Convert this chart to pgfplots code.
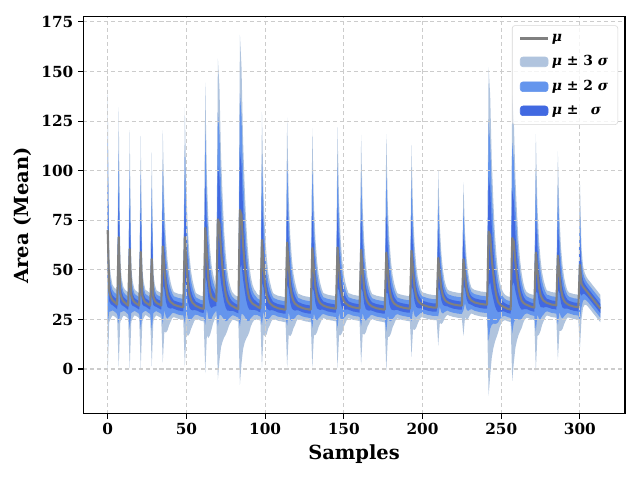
\documentclass[border=0pt]{standalone}
\usepackage{fontspec}
\setmainfont{DejaVu Serif}
\usepackage{pgfplots}
\usepackage{pgfplotstable}
\pgfplotsset{compat=1.18}
\usepgfplotslibrary{fillbetween}
\definecolor{lsb}{RGB}{176,196,222}
\definecolor{cfb}{RGB}{100,149,237}
\definecolor{rb}{RGB}{65,105,225}
\definecolor{mgray}{RGB}{128,128,128}
\definecolor{gridc}{RGB}{204,204,204}
\definecolor{legc}{RGB}{215,215,215}

\pgfplotstableread{
m s
70.0 23.8
39.3 5.2
36.3 3.6
34.8 2.6
34.0 2.4
33.3 2.4
32.5 2.4
66.5 21.8
38.2 4.8
35.5 3.3
34.1 2.4
33.4 2.2
32.7 2.2
32.0 2.2
60.4 20.0
37.1 4.4
34.8 3.0
33.7 2.2
33.1 2.1
32.6 2.1
32.0 2.1
59.0 19.5
36.9 4.3
34.7 2.9
33.6 2.1
33.1 2.1
32.5 2.1
32.0 2.1
55.4 18.0
36.2 4.0
34.3 2.7
33.4 2.1
32.9 2.1
32.5 2.1
32.0 2.1
61.8 19.5
51.0 10.7
41.8 7.8
37.2 5.9
35.0 4.3
33.8 3.3
33.2 2.5
32.5 2.1
32.2 2.1
31.9 2.1
31.6 2.1
31.5 2.1
31.3 2.1
31.2 2.1
66.5 21.8
53.7 12.0
42.8 8.7
37.3 6.5
34.7 4.8
33.3 3.7
32.6 2.8
31.8 2.2
31.5 2.1
31.1 2.1
30.7 2.1
30.5 2.1
30.4 2.1
71.2 24.4
57.1 13.4
45.1 9.8
39.0 7.3
36.2 5.4
35.5 4.1
34.8 3.2
34.2 2.4
75.5 27.0
73.2 23.0
59.6 16.2
50.5 12.2
42.7 8.9
37.7 6.8
34.6 5.1
33.2 3.8
32.3 3.0
31.8 2.4
31.4 2.2
30.9 2.1
30.5 2.1
30.2 2.1
80.2 29.4
77.7 25.0
62.8 17.6
52.9 13.2
44.4 9.7
39.0 7.4
35.5 5.6
34.0 4.1
33.0 3.2
32.5 2.6
32.0 2.4
31.5 2.1
31.0 2.1
30.7 2.1
65.1 21.5
52.8 11.8
42.3 8.6
37.0 6.5
34.6 4.7
33.2 3.7
32.5 2.8
31.8 2.2
31.4 2.1
31.1 2.1
30.7 2.1
30.5 2.1
30.4 2.1
30.2 2.1
30.0 2.1
30.0 2.1
63.8 21.0
52.0 11.6
41.8 8.4
36.8 6.3
34.4 4.6
33.0 3.6
32.4 2.7
31.7 2.1
31.4 2.1
31.0 2.1
30.7 2.1
30.5 2.1
30.3 2.1
30.2 2.1
30.0 2.1
30.0 2.1
61.0 20.1
50.3 11.1
41.2 8.0
36.6 6.0
34.5 4.4
33.2 3.4
32.6 2.6
32.0 2.1
31.7 2.1
31.4 2.1
31.1 2.1
31.0 2.1
30.8 2.1
30.7 2.1
30.5 2.1
30.5 2.1
61.3 20.2
50.5 11.1
41.3 8.1
36.7 6.1
34.5 4.4
33.3 3.4
32.7 2.6
32.0 2.1
31.7 2.1
31.4 2.1
31.1 2.1
31.0 2.1
30.8 2.1
30.7 2.1
30.5 2.1
60.1 19.3
49.6 10.6
40.5 7.7
36.0 5.8
33.9 4.2
32.7 3.3
32.1 2.5
31.5 2.1
31.2 2.1
30.9 2.1
30.6 2.1
30.5 2.1
30.3 2.1
30.2 2.1
30.0 2.1
30.0 2.1
58.7 19.9
48.8 10.9
40.4 8.0
36.1 6.0
34.2 4.4
33.0 3.4
32.5 2.6
31.9 2.1
31.6 2.1
31.3 2.1
31.1 2.1
30.9 2.1
30.8 2.1
30.6 2.1
30.5 2.1
30.5 2.1
59.6 17.8
49.6 9.8
41.0 7.1
36.7 5.3
34.7 3.9
33.6 3.0
33.0 2.3
32.4 2.1
32.1 2.1
31.9 2.1
31.6 2.1
31.4 2.1
31.3 2.1
31.1 2.1
31.0 2.1
31.0 2.1
31.0 2.1
56.0 14.7
47.6 8.1
40.4 5.9
36.8 4.4
35.1 3.2
34.2 2.5
33.7 2.1
33.2 2.1
33.0 2.1
32.7 2.1
32.5 2.1
32.4 2.1
32.2 2.1
32.1 2.1
32.0 2.1
32.0 2.1
55.4 12.9
47.4 7.1
40.5 5.2
37.1 3.9
35.5 2.8
34.6 2.2
34.1 2.1
33.6 2.1
33.4 2.1
33.2 2.1
33.0 2.1
32.8 2.1
32.7 2.1
32.6 2.1
32.5 2.1
32.5 2.1
69.3 27.6
67.3 23.5
55.5 16.6
47.7 12.4
41.0 9.1
36.7 6.9
33.9 5.2
32.8 3.9
32.0 3.0
31.6 2.5
31.2 2.2
30.8 2.1
30.4 2.1
30.2 2.1
30.0 2.1
66.0 24.0
64.3 20.4
53.8 14.4
46.8 10.8
40.8 7.9
37.0 6.0
34.5 4.6
33.5 3.4
32.8 2.6
32.4 2.2
32.1 2.1
31.7 2.1
31.4 2.1
31.2 2.1
31.0 2.1
58.7 19.9
49.4 10.9
41.3 8.0
37.3 6.0
35.5 4.4
34.4 3.4
33.9 2.6
33.3 2.1
33.1 2.1
32.8 2.1
32.5 2.1
32.4 2.1
32.3 2.1
32.1 2.1
57.2 17.5
48.0 9.6
40.2 7.0
36.2 5.3
34.4 3.9
33.4 3.0
32.8 2.3
32.3 2.1
32.0 2.1
31.8 2.1
31.5 2.1
31.4 2.1
31.3 2.1
31.1 2.1
52.5 14.1
43.0 6.0
41.5 3.5
40.5 2.7
39.5 2.4
38.5 2.3
37.5 2.3
36.5 2.3
35.5 2.3
34.5 2.3
33.5 2.3
32.5 2.3
31.5 2.3
30.5 2.3
}\data

\begin{document}
\begin{tikzpicture}
\begin{axis}[name=ax, scale only axis, width=390.2pt, height=285.8pt,
  xmin=-15.65, xmax=328.65, ymin=-22.6, ymax=177.5,
  xtick={0,50,...,300}, ytick={0,25,...,175},
  tick align=outside, tick pos=left, major tick length=3.5pt,
  every tick/.style={black, line width=0.8pt},
  axis line style={black, line width=0.8pt},
  grid=major, grid style={dash pattern=on 3pt off 2pt, gridc, line width=0.8pt},
  /pgf/number format/assume math mode=true,
  ticklabel style={font=\fontsize{11}{13}\selectfont\bfseries},
  xlabel={Samples}, ylabel={Area (Mean)},
  label style={font=\fontsize{14}{16}\selectfont\bfseries},
  fill between/on layer=axis background,
  legend style={at={(1,1)}, xshift=-5pt, yshift=-6pt, anchor=north east,
    draw=legc, rounded corners=2pt, fill=white, fill opacity=0.8, text opacity=1,
    font=\fontsize{10}{12}\selectfont\bfseries, row sep=5pt, inner xsep=5pt, inner ysep=4pt},
  legend cell align=left,
]
\addlegendimage{legend image code/.code={\draw[mgray, line width=1.5pt, draw opacity=1] (0pt,0pt) -- (20pt,0pt);}}
\addlegendentry{\textit{μ}}
\addlegendimage{legend image code/.code={\fill[lsb, fill opacity=1] (0pt,-3.5pt) rectangle (20pt,3.5pt);}}
\addlegendentry{\textit{μ} ± 3 \textit{σ}}
\addlegendimage{legend image code/.code={\fill[cfb, fill opacity=1] (0pt,-3.5pt) rectangle (20pt,3.5pt);}}
\addlegendentry{\textit{μ} ± 2 \textit{σ}}
\addlegendimage{legend image code/.code={\fill[rb, fill opacity=1] (0pt,-3.5pt) rectangle (20pt,3.5pt);}}
\addlegendentry{\textit{μ} ±\hspace{0.9em}\textit{σ}}

\addplot[name path=u3, draw=none, forget plot] table[x expr=\coordindex, y expr=\thisrow{m}+3*\thisrow{s}] {\data};
\addplot[name path=l3, draw=none, forget plot] table[x expr=\coordindex, y expr=\thisrow{m}-3*\thisrow{s}] {\data};
\addplot[lsb, forget plot] fill between[of=u3 and l3];
\addplot[name path=u2, draw=none, forget plot] table[x expr=\coordindex, y expr=\thisrow{m}+2*\thisrow{s}] {\data};
\addplot[name path=l2, draw=none, forget plot] table[x expr=\coordindex, y expr=\thisrow{m}-2*\thisrow{s}] {\data};
\addplot[cfb, forget plot] fill between[of=u2 and l2];
\addplot[name path=u1, draw=none, forget plot] table[x expr=\coordindex, y expr=\thisrow{m}+\thisrow{s}] {\data};
\addplot[name path=l1, draw=none, forget plot] table[x expr=\coordindex, y expr=\thisrow{m}-\thisrow{s}] {\data};
\addplot[rb, forget plot] fill between[of=u1 and l1];
\addplot[mgray, line width=1.5pt, line join=round, forget plot] table[x expr=\coordindex, y=m] {\data};
\end{axis}
\path[use as bounding box] ([shift={(-59.8pt,-47.5pt)}]ax.south west) rectangle ([shift={(10.8pt,12.2pt)}]ax.north east);
\end{tikzpicture}
\end{document}
